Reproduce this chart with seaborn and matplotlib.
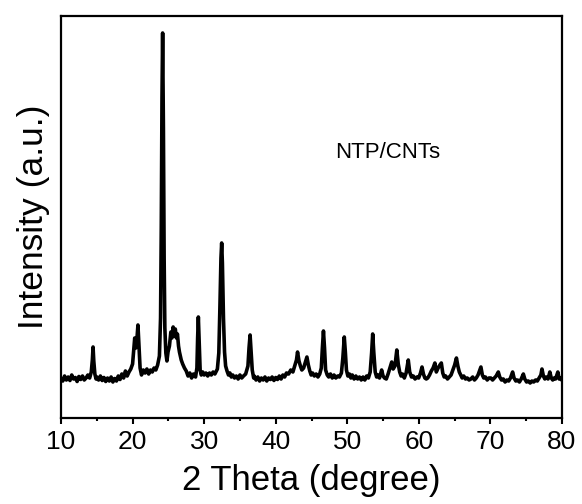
import matplotlib
matplotlib.use("Agg")
import matplotlib.pyplot as plt
import seaborn as sns
import pandas as pd
from matplotlib.ticker import MultipleLocator

two_theta = [
    10.0, 10.25, 10.5, 10.75, 11.0, 11.25, 11.5, 11.75, 12.0, 12.25, 12.5, 12.75, 13.0, 13.25, 13.5, 13.75,
    14.0, 14.23, 14.38, 14.48, 14.58, 14.73, 14.9, 15.0, 15.25, 15.5, 15.75, 16.0, 16.25, 16.5, 16.75,
    17.0, 17.25, 17.5, 17.75, 18.0, 18.25, 18.5, 18.75, 19.0, 19.25, 19.5, 19.75,
    20.0, 20.3, 20.45, 20.6, 20.75, 20.9, 21.05, 21.25, 21.5, 21.75, 22.0, 22.25, 22.5, 22.75,
    23.0, 23.25, 23.5, 23.75, 23.91, 24.01, 24.11, 24.2, 24.31, 24.41, 24.51, 24.65, 24.8, 24.95,
    25.15, 25.35, 25.5, 25.67, 25.82, 25.97, 26.12, 26.27, 26.42, 26.55, 26.8, 27.0, 27.25, 27.5, 27.75,
    28.0, 28.25, 28.5, 28.8, 28.99, 29.09, 29.19, 29.29, 29.44, 29.6, 29.8, 30.0, 30.25, 30.5, 30.75,
    31.0, 31.25, 31.5, 31.85, 32.05, 32.2, 32.35, 32.45, 32.55, 32.7, 32.85, 33.0, 33.2, 33.4, 33.6, 33.8,
    34.0, 34.25, 34.5, 34.75, 35.0, 35.25, 35.5, 35.8, 36.12, 36.27, 36.42, 36.57, 36.72, 36.92,
    37.0, 37.25, 37.5, 37.75, 38.0, 38.25, 38.5, 38.75, 39.0, 39.25, 39.5, 39.75,
    40.0, 40.25, 40.5, 40.75, 41.0, 41.25, 41.5, 41.8, 42.1, 42.4, 42.65, 42.9, 43.05, 43.25, 43.45, 43.65, 43.9,
    44.15, 44.36, 44.56, 44.76, 44.95, 45.15, 45.4, 45.65, 45.9, 46.15, 46.37, 46.52, 46.67, 46.82, 46.97,
    47.2, 47.4, 47.65, 47.9, 48.15, 48.4, 48.65, 48.9, 49.18, 49.38, 49.58, 49.73, 49.88, 50.08,
    50.3, 50.5, 50.7, 50.95, 51.2, 51.45, 51.7, 51.95, 52.2, 52.45, 52.7, 52.95, 53.2, 53.4, 53.55, 53.7, 53.9, 54.1,
    54.3, 54.5, 54.8, 55.0, 55.2, 55.45, 55.7, 55.95, 56.21, 56.41, 56.66, 56.92, 57.12,
    57.32, 57.52, 57.72, 57.97, 58.22, 58.52, 58.72, 58.97, 59.22, 59.47, 59.72, 59.97,
    60.23, 60.44, 60.64, 60.84, 61.04, 61.24, 61.49, 61.74, 61.99, 62.24, 62.44, 62.69, 62.94, 63.14,
    63.34, 63.54, 63.75, 64.0, 64.25, 64.5, 64.75, 65.0, 65.25, 65.45, 65.65, 65.85, 66.05,
    66.27, 66.52, 66.77, 67.02, 67.27, 67.52, 67.77, 68.02, 68.27, 68.47, 68.67, 68.87, 69.07,
    69.3, 69.55, 69.8, 70.05, 70.3, 70.55, 70.8, 71.1, 71.3, 71.55, 71.8, 72.05,
    72.3, 72.55, 72.8, 73.1, 73.3, 73.55, 73.8, 74.05, 74.3, 74.6, 74.8, 75.05,
    75.3, 75.55, 75.8, 76.05, 76.3, 76.55, 76.8, 77.05, 77.2, 77.4, 77.6, 77.8, 78.05,
    78.3, 78.5, 78.7, 78.9, 79.1, 79.42, 79.6, 79.8, 79.95, 80.0,
]

intensity = [
    300, 270, 320, 280, 310, 275, 330, 290, 305, 265, 315, 285, 320, 280, 300, 330,
    300, 360, 480, 610, 470, 340, 290, 310, 280, 320, 275, 305, 265, 300, 270,
    310, 260, 295, 270, 320, 285, 340, 300, 370, 320, 360, 390,
    440, 700, 600, 680, 830, 620, 400, 330, 380, 350, 390, 340, 380, 360,
    400, 380, 430, 520, 900, 1800, 3100, 3750, 2800, 1500, 800, 550, 470, 560,
    620, 760, 700, 810, 720, 790, 700, 740, 620, 560, 480, 440, 400, 370, 320,
    350, 300, 340, 310, 400, 700, 910, 700, 380, 330, 360, 330, 350, 320, 350,
    330, 360, 340, 390, 550, 1000, 1500, 1650, 1450, 900, 560, 420, 370, 330, 350, 310,
    330, 300, 320, 290, 330, 300, 320, 340, 420, 600, 730, 550, 380, 300,
    320, 280, 310, 270, 300, 280, 310, 270, 300, 285, 310, 275,
    305, 285, 320, 290, 330, 310, 350, 340, 380, 360, 420, 480, 560, 470, 420, 380, 400,
    460, 510, 430, 370, 330, 350, 320, 340, 310, 340, 400, 600, 770, 600, 380,
    330, 310, 340, 300, 330, 300, 320, 310, 350, 500, 710, 560, 380, 320,
    340, 300, 330, 290, 320, 290, 310, 280, 310, 280, 320, 300, 360, 550, 740, 560, 360, 310,
    330, 300, 380, 320, 300, 290, 340, 400, 460, 390, 420, 580, 440,
    360, 320, 340, 300, 350, 480, 360, 310, 320, 290, 310, 300,
    350, 410, 340, 300, 290, 300, 330, 370, 400, 450, 360, 400, 430, 450,
    350, 310, 320, 290, 310, 330, 380, 430, 500, 420, 360, 330, 300,
    320, 290, 300, 280, 290, 310, 280, 300, 330, 370, 410, 330, 300,
    310, 280, 300, 300, 280, 300, 320, 360, 310, 280, 290, 260,
    280, 270, 300, 360, 300, 270, 280, 260, 290, 340, 290, 260,
    270, 250, 270, 260, 280, 270, 300, 330, 390, 320, 290, 310, 290,
    360, 300, 280, 300, 290, 360, 290, 300, 280, 300,
]

x_ticks = [10, 20, 30, 40, 50, 60, 70, 80]
sample_label = "NTP/CNTs"

df = pd.DataFrame({"two_theta": two_theta, "intensity": intensity})

sns.set_theme(style="ticks")
plt.rcParams["font.family"] = ["Liberation Sans", "DejaVu Sans"]

fig = plt.figure(figsize=(5.82, 5.04), dpi=100)
ax = fig.add_axes([61 / 582, 1 - 418 / 504, (562 - 61) / 582, (418 - 16) / 504])

sns.lineplot(data=df, x="two_theta", y="intensity", ax=ax, color="black",
             linewidth=2.6, estimator=None, sort=False)

ax.set_xlim(10, 80)
ax.set_ylim(-100, 3920)
ax.set_xticks(x_ticks)
ax.set_xticklabels([str(t) for t in x_ticks])
ax.xaxis.set_minor_locator(MultipleLocator(5))
ax.set_yticks([])
ax.tick_params(axis="x", which="major", direction="out", length=4.5, width=1.5,
               labelsize=19, color="black", labelcolor="black", pad=4)
ax.tick_params(axis="x", which="minor", direction="out", length=2.5, width=1.5, color="black")
for s in ax.spines.values():
    s.set_visible(True)
    s.set_linewidth(1.6)
    s.set_color("black")

ax.set_xlabel("2 Theta (degree)", fontsize=25, color="black", labelpad=7)
ax.set_ylabel("Intensity (a.u.)", fontsize=25.5, color="black", labelpad=8)
ax.text(48.28, 2560, sample_label, fontsize=16, color="black", va="center", ha="left")

fig.savefig("out.png", dpi=100)
